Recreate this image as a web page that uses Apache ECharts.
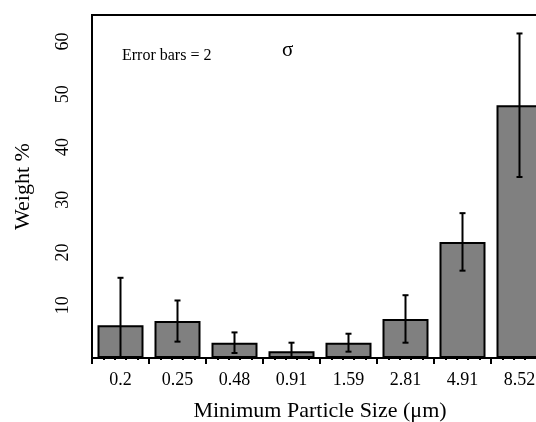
<!DOCTYPE html>
<html>
<head>
<meta charset="utf-8">
<script src="https://cdn.jsdelivr.net/npm/echarts@6/dist/echarts.min.js"></script>
<style>
  html, body { margin: 0; padding: 0; background: #fff; }
  #chart { width: 536px; height: 422px; }
</style>
</head>
<body>
<div id="chart"></div>
<script>
// particle size classes (µm) and weight %
const sizes = ['0.2', '0.25', '0.48', '0.91', '1.59', '2.81', '4.91', '8.52'];
const weights = [6.2, 7.0, 2.9, 1.3, 2.9, 7.4, 22.0, 47.9];
const errors = [9.0, 3.9, 1.95, 1.6, 1.7, 4.5, 5.45, 13.6]; // 2 sigma

const serif = 'Liberation Serif';

let chart = echarts.init(document.getElementById('chart'), null, { renderer: 'canvas' });

function renderErrorBar(params, api) {
  let i = api.value(0);
  let hi = api.coord([i, api.value(2)]);
  let lo = api.coord([i, api.value(1)]);
  let cap = 3;
  let style = { stroke: '#000', lineWidth: 2 };
  return {
    type: 'group',
    children: [
      { type: 'line', shape: { x1: hi[0], y1: hi[1], x2: lo[0], y2: lo[1] }, style: style },
      { type: 'line', shape: { x1: hi[0] - cap, y1: hi[1], x2: hi[0] + cap, y2: hi[1] }, style: style },
      { type: 'line', shape: { x1: lo[0] - cap, y1: lo[1], x2: lo[0] + cap, y2: lo[1] }, style: style }
    ]
  };
}

let errData = sizes.map(function (s, i) {
  return [i, weights[i] - errors[i], weights[i] + errors[i]];
});

let option = {
  animation: false,
  textStyle: { fontFamily: serif, color: '#000' },
  grid: {
    left: 92,
    top: 15,
    width: 456,
    height: 343,
    outerBoundsMode: 'none',
    containLabel: false,
    show: true,
    borderColor: '#000',
    borderWidth: 2,
    backgroundColor: 'transparent'
  },
  graphic: [
    {
      type: 'text', left: 122, top: 48,
      style: { text: 'Error bars = 2', font: '16px "Liberation Serif"', fill: '#000' }
    },
    {
      type: 'text', left: 282, top: 40,
      style: { text: 'σ', font: '21px "Liberation Serif"', fill: '#000' }
    }
  ],
  xAxis: [
    {
      type: 'category',
      data: sizes,
      position: 'bottom',
      name: 'Minimum Particle Size (μm)',
      nameLocation: 'middle',
      nameGap: 42,
      nameTextStyle: { fontFamily: serif, fontSize: 22, color: '#000' },
      axisLine: { lineStyle: { color: '#000', width: 2 } },
      axisTick: { show: true, length: 6, lineStyle: { color: '#000', width: 2 } },
      axisLabel: { fontFamily: serif, fontSize: 18, color: '#000', margin: 13 },
      splitLine: { show: false }
    },
    {
      type: 'value',
      position: 'bottom',
      min: 0,
      max: 8,
      interval: 1,
      axisLine: { show: false },
      axisTick: { show: false },
      axisLabel: { show: false },
      minorTick: { show: true, splitNumber: 5, length: 2, lineStyle: { color: '#000', width: 2 } },
      splitLine: { show: false },
      minorSplitLine: { show: false }
    }
  ],
  yAxis: {
    type: 'value',
    min: 0,
    max: 65,
    interval: 10,
    name: 'Weight %',
    nameLocation: 'middle',
    nameGap: 58,
    nameTextStyle: { fontFamily: serif, fontSize: 22, color: '#000' },
    axisLine: { show: true, lineStyle: { color: '#000', width: 2 } },
    axisTick: { show: false },
    axisLabel: {
      fontFamily: serif, fontSize: 18, color: '#000', rotate: 90, margin: 20,
      showMinLabel: false, showMaxLabel: false,
      formatter: function (v) { return v === 0 || v > 60 ? '' : String(v); }
    },
    splitLine: { show: false }
  },
  series: [
    {
      type: 'bar',
      xAxisIndex: 0,
      data: weights,
      barWidth: 46,
      itemStyle: { color: '#808080', borderColor: '#000', borderWidth: 2 }
    },
    {
      type: 'custom',
      xAxisIndex: 0,
      renderItem: renderErrorBar,
      encode: { x: 0, y: [1, 2] },
      data: errData,
      clip: true,
      z: 3
    }
  ]
};

chart.setOption(option);
</script>
</body>
</html>
